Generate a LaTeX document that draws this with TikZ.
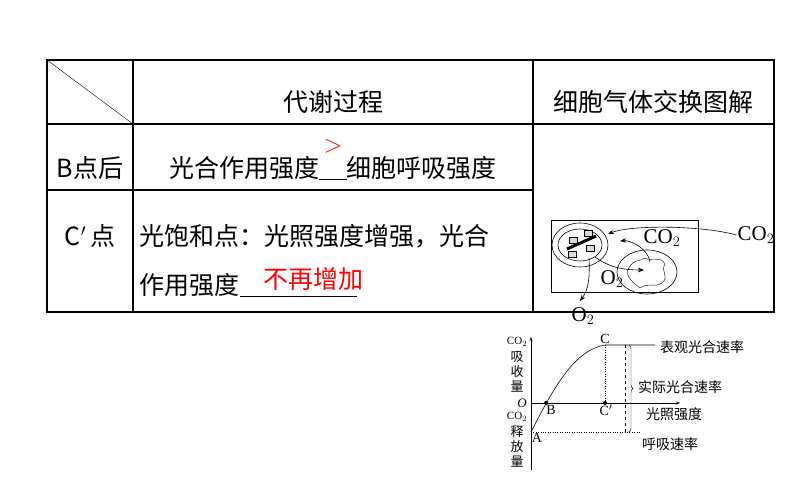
\documentclass[tikz,border=0pt]{standalone}
\usepackage{fontspec}
\setmainfont{Liberation Serif}
\newfontfamily\cjk{Noto Sans CJK SC}
\usetikzlibrary{decorations.pathreplacing,arrows.meta}
\begin{document}
\begin{tikzpicture}[x=1pt,y=-1pt,
  cell/.style={font=\cjk\fontsize{25}{28}\selectfont},
  small/.style={font=\cjk\fontsize{14}{15}\selectfont,inner sep=1pt},
  vs/.style={font=\cjk\fontsize{13}{14}\selectfont,inner sep=0pt},
  lat/.style={font=\fontsize{21}{24}\selectfont,inner sep=1pt},
  gl/.style={font=\fontsize{14}{15}\selectfont,inner sep=1pt},
  arr/.style={-{Stealth[length=6pt]},semithick}]
\useasboundingbox (0,0) rectangle (794,495);
% table
\draw[line width=1.5pt] (47,60) rectangle (774,312);
\draw[line width=1.5pt] (47,124) -- (774,124) (47,190) -- (533,190) (133,60) -- (133,312) (533,60) -- (533,312);
\draw[thin] (47,60) -- (133,124);
\node[cell] (h1) at (333,102) {代谢过程};
\node[cell] (h2) at (653,102) {细胞气体交换图解};
\node[cell] (r1) at (90,168) {B点后};
\node[cell] (r2) at (90,236) {C$'$\,点};
\node[cell] (t1) at (333,168) {光合作用强度\underline{\hspace{1.1em}}细胞呼吸强度};
\node[red,font=\fontsize{24}{26}\selectfont,inner sep=0pt] (g) at (333,146) {$>$};
\node[cell,anchor=west] (t2) at (136,236) {光饱和点：光照强度增强，光合};
\node[cell,anchor=west] (t3) at (136,285) {作用强度\underline{\hspace{4.7em}}};
\node[cell,red] (t4) at (313,279) {不再增加};
% cell diagram
\draw[semithick] (551,220) rectangle (698,292);
\draw[semithick] (580,245) ellipse (28 and 22);
\draw[semithick] (580,245) ellipse (22 and 16);
\draw[line width=3pt] (567,249) -- (596,236);
\foreach \p in {(573,240),(588,233),(572,254),(590,248)}
  \draw[fill=gray!30] \p ++(-4,-3) rectangle ++(8,6);
\draw[semithick] (647,272) ellipse (30 and 22);
\draw (627,272) .. controls (632,258) and (640,262) .. (645,258) .. controls (652,262) and (660,255) .. (665,264) .. controls (660,272) and (670,276) .. (662,283) .. controls (655,288) and (648,282) .. (640,288) .. controls (632,282) and (628,278) .. (627,272);
\node[lat] (co2a) at (662,238) {CO$_2$};
\node[lat] (co2b) at (756,235) {CO$_2$};
\node[lat] (o2a) at (612,279) {O$_2$};
\node[lat] (o2b) at (583,316) {O$_2$};
\draw[arr] (co2b.west) .. controls (700,225) and (630,225) .. (608,234);
\draw[arr] (650,262) .. controls (648,248) and (630,240) .. (620,241);
\draw[arr] (595,257) .. controls (610,268) and (625,270) .. (644,270);
\draw[arr] (589,258) .. controls (590,280) and (588,290) .. (580,301);
% graph
\coordinate (O) at (531,403);
\coordinate (A) at (531,432);
\coordinate (B) at (546,403);
\coordinate (C) at (605,345);
\coordinate (Cp) at (605,403);
\draw[semithick,-{Stealth[length=4pt]}] (531,470) -- (531,337);
\draw[semithick,-{Stealth[length=4pt]}] (O) -- (680,403);
\draw[semithick] (A) .. controls (555,385) and (575,350) .. (C) -- (655,345);
\draw[dotted] (C) -- (Cp);
\draw[dotted] (A) -- (640,432);
\draw[dashed] (625,345) -- (625,432);
\draw[decorate,decoration={brace,amplitude=4pt}] (629,345) -- (629,432);
\fill (B) circle (2) (Cp) circle (2);
\node[gl] at (605,339) {C};
\node[gl] at (551,410) {B};
\node[gl] at (537,438) {A};
\node[gl] at (606,410) {C$'$};
\node[gl,font=\itshape\fontsize{13}{14}\selectfont] at (522,403) {O};
\node[inner sep=0pt,font=\fontsize{11}{12}\selectfont] at (517,342) {CO$_2$};
\node[vs] at (517,357) {吸};
\node[vs] at (517,372) {收};
\node[vs] at (517,387) {量};
\node[inner sep=0pt,font=\fontsize{11}{12}\selectfont] at (517,417) {CO$_2$};
\node[vs] at (517,432) {释};
\node[vs] at (517,447) {放};
\node[vs] at (517,462) {量};
\node[small,anchor=west] at (659,347) {表观光合速率};
\node[small,anchor=west] at (637,387) {实际光合速率};
\node[small,anchor=west] at (645,414) {光照强度};
\node[small,anchor=west] at (641,444) {呼吸速率};
\end{tikzpicture}
\end{document}
